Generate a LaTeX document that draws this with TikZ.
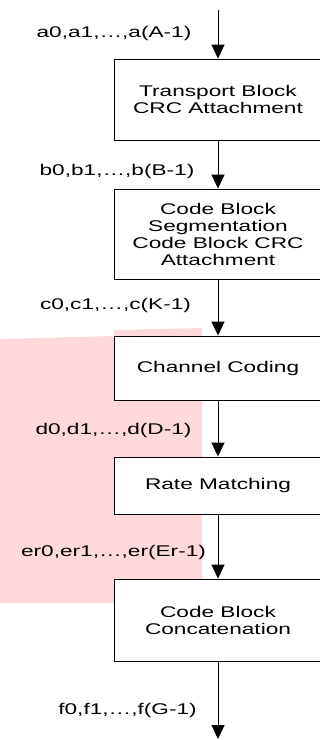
\documentclass[tikz,border=0pt]{standalone}
\usepackage{fontspec}
\setmainfont[FakeStretch=1.46]{Liberation Sans}
\usetikzlibrary{arrows.meta}
\definecolor{patch}{RGB}{255,216,219}

\begin{document}
\begin{tikzpicture}[x=1pt,y=1pt,
	block/.style={draw,fill=white,line width=0.9pt,minimum width=208pt,inner sep=0pt,align=center,font=\fontsize{15.5}{17}\selectfont},
	lbl/.style={inner sep=0pt,font=\fontsize{15.5}{17}\selectfont},
	flow/.style={-{Triangle[width=13pt,length=14pt]},line width=0.9pt}]
\useasboundingbox (0,0) rectangle (320,-740);
% pink patch behind the middle blocks
\fill[patch] (0,-339) -- (114,-336) -- (114,-330) -- (202,-328) -- (202,-603) -- (0,-603) -- cycle;
\coordinate (in) at (218,-10);
\coordinate (out) at (218,-739);
\node[block,minimum height=81pt] (tb) at (218,-99.5) {Transport Block\\CRC Attachment};
\node[block,minimum height=90pt] (seg) at (218,-234) {Code Block\\Segmentation\\Code Block CRC\\Attachment};
\node[block,minimum height=64pt] (cc) at (218,-368) {Channel Coding};
\node[block,minimum height=57pt] (rm) at (218,-485.5) {Rate Matching};
\node[block,minimum height=82pt] (cat) at (218,-620) {Code Block\\Concatenation};
\node[lbl] (la) at (114,-33) {a0,a1,\dots,a(A-1)};
\node[lbl] (lb) at (117,-171) {b0,b1,\dots,b(B-1)};
\node[lbl] (lc) at (115.5,-305) {c0,c1,\dots,c(K-1)};
\node[lbl] (ld) at (113.5,-430) {d0,d1,\dots,d(D-1)};
\node[lbl] (le) at (113.5,-552) {er0,er1,\dots,er(Er-1)};
\node[lbl] (lf) at (127.5,-710) {f0,f1,\dots,f(G-1)};
\draw[flow] (in) -- (tb);
\draw[flow] (tb) -- (seg);
\draw[flow] (seg) -- (cc);
\draw[flow] (cc) -- (rm);
\draw[flow] (rm) -- (cat);
\draw[flow] (cat) -- (out);
\end{tikzpicture}
\end{document}
